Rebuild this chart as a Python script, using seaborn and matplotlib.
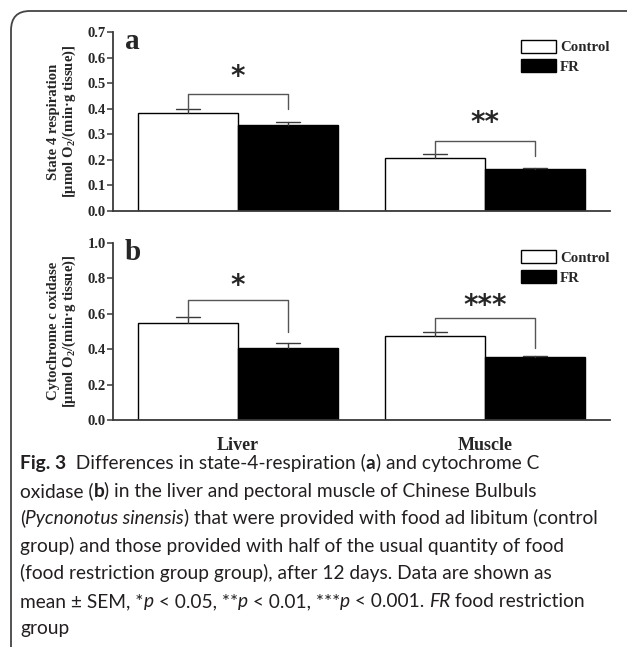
import matplotlib
matplotlib.use("Agg")
import matplotlib.pyplot as plt
import seaborn as sns
import pandas as pd
from matplotlib.patches import FancyBboxPatch

# Data
tissues = ["Liver", "Muscle"]
groups = ["Control", "FR"]

# (a) state 4 respiration
resp_control = [0.383, 0.207]
resp_fr = [0.336, 0.165]
resp_control_sem = [0.016, 0.014]
resp_fr_sem = [0.012, 0.005]
resp_stars = ["*", "**"]
resp_bracket_y = [0.457, 0.275]
resp_right_leg = [0.400, 0.215]
resp_star_y = [0.54, 0.36]

# (b) cytochrome c oxidase
cco_control = [0.545, 0.475]
cco_fr = [0.408, 0.354]
cco_control_sem = [0.034, 0.023]
cco_fr_sem = [0.026, 0.009]
cco_stars = ["*", "***"]
cco_bracket_y = [0.677, 0.577]
cco_right_leg = [0.498, 0.408]
cco_star_y = [0.78, 0.667]

sns.set_style("white")
plt.rcParams["font.family"] = ["Liberation Serif", "DejaVu Serif"]
plt.rcParams["mathtext.default"] = "regular"

W, H = 627, 647
fig = plt.figure(figsize=(W / 100, H / 100), dpi=100)

SERIF = ["Liberation Serif", "DejaVu Serif"]
GRAY = "#3a3a3a"
BRK = "#555555"


def draw_panel(ax, ctrl, fr, ctrl_sem, fr_sem, stars, br_y, right_leg, star_y,
               ymax, yticks, ylabel, letter, show_x):
    df = pd.DataFrame({
        "tissue": tissues * 2,
        "group": [groups[0]] * 2 + [groups[1]] * 2,
        "value": ctrl + fr,
    })
    sns.barplot(data=df, x="tissue", y="value", hue="group", hue_order=groups,
                palette={"Control": "white", "FR": "black"}, edgecolor="black",
                linewidth=1.0, width=0.81, errorbar=None, ax=ax)
    ax.set_xlim(-0.506, 1.506)
    ax.set_ylim(0, ymax)
    ax.set_yticks(yticks)
    ax.set_yticklabels([f"{t:.1f}" for t in yticks], fontweight="bold",
                       fontsize=10.5, family=SERIF)

    # one-sided error bars
    centers = []
    for cont, sems in zip(ax.containers, [ctrl_sem, fr_sem]):
        cs = []
        for bar, s in zip(cont, sems):
            x = bar.get_x() + bar.get_width() / 2
            h = bar.get_height()
            cw = bar.get_width() * 0.24
            ax.plot([x, x], [h, h + s], color=GRAY, lw=1.0, zorder=3)
            ax.plot([x - cw / 2, x + cw / 2], [h + s, h + s], color=GRAY, lw=1.0, zorder=3)
            cs.append(x)
        centers.append(cs)

    # significance brackets
    for i in range(len(tissues)):
        xl, xr = centers[0][i], centers[1][i]
        yl = ctrl[i] + ctrl_sem[i]
        ax.plot([xl, xl, xr, xr], [yl, br_y[i], br_y[i], right_leg[i]],
                color=BRK, lw=1.0, zorder=3)
        ax.annotate(stars[i], ((xl + xr) / 2, star_y[i]), xytext=(0, -3),
                    textcoords="offset points", ha="center", va="center",
                    fontsize=20, fontweight="bold", family="DejaVu Sans")

    ax.text(0.024, 0.945, letter, transform=ax.transAxes, ha="left", va="center",
            fontsize=21, fontweight="bold", family=SERIF)

    handles, labels = ax.get_legend_handles_labels()
    ax.legend(handles, labels, loc="upper right", bbox_to_anchor=(1.02, 1.015),
              frameon=False, handlelength=2.3, handleheight=0.95,
              handletextpad=0.3, labelspacing=0.35, borderpad=0.2,
              prop={"family": SERIF, "weight": "bold", "size": 10.7})

    ax.set_ylabel(ylabel, fontsize=10.6, fontweight="bold", family=SERIF,
                  linespacing=1.05)
    ax.yaxis.set_label_coords(-0.07, 0.5)
    ax.set_xlabel("")
    if show_x:
        ax.set_xticks([0, 1])
        ax.set_xticklabels(tissues, fontweight="bold", fontsize=13, family=SERIF)
        ax.tick_params(axis="x", length=0, pad=12)
    else:
        ax.set_xticks([])
    ax.tick_params(axis="y", direction="out", length=4, width=1.1, pad=1,
                   color=GRAY, left=True)
    sns.despine(ax=ax)
    for sp in ["left", "bottom"]:
        ax.spines[sp].set_color(GRAY)
        ax.spines[sp].set_linewidth(1.3)


ax_a = fig.add_axes([113 / W, 1 - 211 / H, 497 / W, 179 / H])
draw_panel(ax_a, resp_control, resp_fr, resp_control_sem, resp_fr_sem,
           resp_stars, resp_bracket_y, resp_right_leg, resp_star_y,
           0.7, [0.0, 0.1, 0.2, 0.3, 0.4, 0.5, 0.6, 0.7],
           "State 4 respiration\n[μmol O$_2$/(min·g tissue)]", "a", False)

ax_b = fig.add_axes([113 / W, 1 - 420 / H, 497 / W, 177.3 / H])
draw_panel(ax_b, cco_control, cco_fr, cco_control_sem, cco_fr_sem,
           cco_stars, cco_bracket_y, cco_right_leg, cco_star_y,
           1.0, [0.0, 0.2, 0.4, 0.6, 0.8, 1.0],
           "Cytochrome c oxidase\n[μmol O$_2$/(min·g tissue)]", "b", True)

# frame around the figure + caption
fig.add_artist(FancyBboxPatch((11 / W, -0.2), 1.2, 0.2 + 1 - 11 / H,
                              boxstyle="round,pad=0,rounding_size=0.03",
                              transform=fig.transFigure, facecolor="none",
                              edgecolor="#444444", lw=1.3))

CAP = ["Lato", "DejaVu Sans"]
CAP_SIZE = 13.8
caption = [
    [("Fig. 3", "bold", "normal"), ("  Differences in state-4-respiration (", "normal", "normal"),
     ("a", "bold", "normal"), (") and cytochrome C", "normal", "normal")],
    [("oxidase (", "normal", "normal"), ("b", "bold", "normal"),
     (") in the liver and pectoral muscle of Chinese Bulbuls", "normal", "normal")],
    [("(", "normal", "normal"), ("Pycnonotus sinensis", "normal", "italic"),
     (") that were provided with food ad libitum (control", "normal", "normal")],
    [("group) and those provided with half of the usual quantity of food", "normal", "normal")],
    [("(food restriction group group), after 12 days. Data are shown as", "normal", "normal")],
    [("mean ± SEM, *", "normal", "normal"), ("p", "normal", "italic"),
     (" < 0.05, **", "normal", "normal"), ("p", "normal", "italic"),
     (" < 0.01, ***", "normal", "normal"), ("p", "normal", "italic"),
     (" < 0.001. ", "normal", "normal"), ("FR", "normal", "italic"),
     (" food restriction", "normal", "normal")],
    [("group", "normal", "normal")],
]
line_y = [469, 497, 524, 552, 579, 607, 634]

fig.canvas.draw()
renderer = fig.canvas.get_renderer()


def seg_width(txt, **kw):
    t1 = fig.text(0, 0, txt + "x", **kw)
    t2 = fig.text(0, 0, "x", **kw)
    w = t1.get_window_extent(renderer).width - t2.get_window_extent(renderer).width
    t1.remove()
    t2.remove()
    return w


for segs, yb in zip(caption, line_y):
    x = 20.0
    for txt, weight, style in segs:
        kw = dict(family=CAP, fontsize=CAP_SIZE, fontweight=weight, fontstyle=style,
                  color="#231f20")
        fig.text(x / W, 1 - yb / H, txt, ha="left", va="baseline", **kw)
        x += seg_width(txt, **kw)

fig.savefig("out.png", dpi=100)
